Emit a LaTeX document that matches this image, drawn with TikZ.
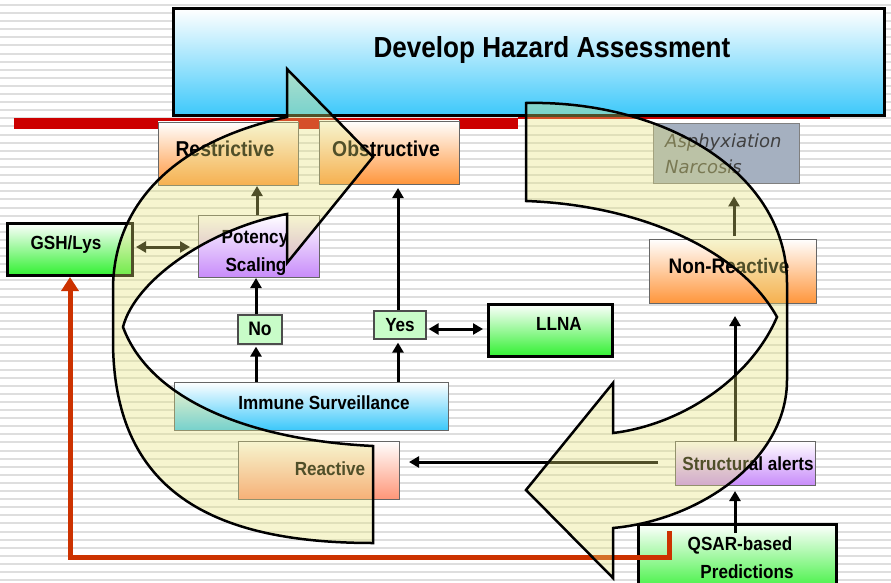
\documentclass[tikz,border=0pt]{standalone}
\usepackage{fontspec}
\setmainfont{Liberation Sans}[FakeStretch=0.9]
\newfontfamily\oblfont{DejaVu Sans}
\usetikzlibrary{arrows.meta}
\definecolor{skyb}{RGB}{60,200,250}
\definecolor{orng}{RGB}{255,150,60}
\definecolor{salm}{RGB}{255,150,120}
\definecolor{grn}{RGB}{50,240,50}
\definecolor{purp}{RGB}{200,140,250}
\definecolor{pale}{RGB}{200,252,200}
\definecolor{slate}{RGB}{165,176,192}
\definecolor{redbar}{RGB}{204,0,0}
\definecolor{rust}{RGB}{204,50,0}
\definecolor{band}{RGB}{230,228,120}
\definecolor{stripe}{RGB}{222,222,222}
\definecolor{darktxt}{RGB}{64,64,64}
\begin{document}
\begin{tikzpicture}[x=1pt,y=-1pt,
  box/.style={draw=black!60, line width=0.8pt, top color=white, inner sep=0pt, outer sep=0pt},
  boldbox/.style={draw=black, line width=3pt, top color=white, inner sep=0pt, outer sep=0pt},
  txt/.style={font=\bfseries\fontsize{19}{22}\selectfont, inner sep=0pt, anchor=base},
  bigtxt/.style={font=\bfseries\fontsize{21.5}{24}\selectfont, inner sep=0pt, anchor=base},
  conn/.style={line width=3pt, -{Triangle[width=11pt,length=10pt]}},
  twoway/.style={line width=3pt, {Triangle[width=11pt,length=10pt]}-{Triangle[width=11pt,length=10pt]}},
  redconn/.style={draw=rust, line width=5pt, -{Triangle[width=17pt,length=14pt]}},
  curved/.style={draw=black, line width=2.5pt, fill=band, fill opacity=0.35, line join=miter}]
\useasboundingbox (0,0) rectangle (891,583);
\clip (0,0) rectangle (891,583);
% background stripes
\fill[white] (0,0) rectangle (891,583);
\foreach \i in {0,...,72} \fill[stripe] (0,{4+8.1*\i}) rectangle (891,{6+8.1*\i});
% red bar
\fill[redbar] (14,118) rectangle (518,129.5);
\fill[redbar] (518,116) rectangle (830,119.5);
% boxes
\node[boldbox, bottom color=skyb, minimum width=711pt, minimum height=107pt] (title) at (528.5,62.5) {};
\node[box, bottom color=orng, minimum width=140pt, minimum height=63pt] (restr) at (228,153.5) {};
\node[box, bottom color=orng, minimum width=140pt, minimum height=63pt] (obstr) at (389,152.5) {};
\node[draw=black!50, line width=0.8pt, fill=slate, inner sep=0pt, minimum width=146pt, minimum height=60pt] (asph) at (726,153) {};
\node[boldbox, bottom color=grn, minimum width=125pt, minimum height=52pt] (gsh) at (69.5,249) {};
\node[box, bottom color=purp, minimum width=121pt, minimum height=62pt] (pot) at (258.5,246) {};
\node[box, bottom color=orng, minimum width=167pt, minimum height=64pt] (nonr) at (732.5,271) {};
\node[boldbox, bottom color=grn, minimum width=124pt, minimum height=52pt] (llna) at (550,330) {};
\node[draw=black!70, line width=1.2pt, fill=pale, inner sep=0pt, minimum width=52pt, minimum height=28pt] (yes) at (400,325) {};
\node[draw=black!70, line width=1.2pt, fill=pale, inner sep=0pt, minimum width=44pt, minimum height=29pt] (no) at (260,329.5) {};
\node[box, bottom color=skyb, minimum width=274pt, minimum height=48pt] (imm) at (311,406) {};
\node[box, bottom color=salm, minimum width=161pt, minimum height=58pt] (react) at (318.5,470) {};
\node[box, bottom color=purp, minimum width=140pt, minimum height=44pt] (struct) at (745,463) {};
\node[boldbox, bottom color=grn, minimum width=198pt, minimum height=71pt] (qsar) at (737,559.5) {};
% texts
\node[font=\bfseries\fontsize{29}{32}\selectfont, inner sep=0pt, anchor=base] (tTitle) at (552,58) {Develop Hazard Assessment};
\node[bigtxt] (tRestr) at (225,157) {Restrictive};
\node[bigtxt] (tObstr) at (386,156) {Obstructive};
\node[font=\oblfont\itshape\fontsize{18}{20}\selectfont, text=darktxt, inner sep=0pt, anchor=base west] (tAsph) at (665,147) {Asphyxiation};
\node[font=\oblfont\itshape\fontsize{18}{20}\selectfont, text=darktxt, inner sep=0pt, anchor=base west] (tNarc) at (665,173) {Narcosis};
\node[txt] (tGsh) at (66,249.5) {GSH/Lys};
\node[txt] (tPot) at (255,243) {Potency};
\node[txt] (tScal) at (256,271) {Scaling};
\node[bigtxt, font=\bfseries\fontsize{21}{24}\selectfont] (tNonr) at (729,273) {Non-Reactive};
\node[txt, font=\bfseries\fontsize{19.5}{22}\selectfont] (tNo) at (260,335) {No};
\node[txt] (tYes) at (400,331) {Yes};
\node[txt] (tLlna) at (559,330) {LLNA};
\node[txt] (tImm) at (324,409) {Immune Surveillance};
\node[txt] (tReact) at (330,475) {Reactive};
\node[txt] (tStruct) at (748,470) {Structural alerts};
\node[txt] (tQsar) at (740,550) {QSAR-based};
\node[txt] (tPred) at (747,578) {Predictions};
% connectors
\draw[conn, shorten >=1pt] (257,0 |- pot.north) -- (257,0 |- restr.south);
\draw[twoway, shorten <=4pt, shorten >=8pt] (gsh.east |- 0,247) -- (pot.west |- 0,247);
\draw[conn, shorten >=1pt] (256,0 |- no.north) -- (256,0 |- pot.south);
\draw[conn, shorten >=2pt] (256,0 |- imm.north) -- (256,0 |- no.south);
\draw[conn, shorten >=3pt] (398,0 |- imm.north) -- (398,0 |- yes.south);
\draw[conn, shorten >=4pt] (398,0 |- yes.north) -- (398,0 |- obstr.south);
\draw[twoway, shorten <=2pt, shorten >=5pt] (yes.east |- 0,329) -- (llna.west |- 0,329);
\draw[conn, shorten <=17pt, shorten >=10pt] (struct.west |- 0,462) -- (react.east |- 0,462);
\draw[conn, shorten <=3pt, shorten >=13pt] (734,0 |- nonr.north) -- (734,0 |- asph.south);
\draw[conn, shorten >=13pt] (735,0 |- struct.north) -- (735,0 |- nonr.south);
\draw[conn, shorten <=-9pt, shorten >=6pt] (735,0 |- qsar.north) -- (735,0 |- struct.south);
\coordinate (redstart) at (669,531);
\draw[redconn, shorten >=2pt] (redstart) -- (669,557) -- (70,557) -- (70,0 |- gsh.south);
% curved arrows
\path[curved] (287,117) .. controls (180,140) and (113,200) .. (113,290) -- (113,340)
  .. controls (113,490) and (210,543) .. (373,543) -- (373,446)
  .. controls (250,440) and (150,400) .. (123,327)
  .. controls (135,280) and (210,228) .. (287,214) -- (287,263) -- (373,157) -- (287,69) -- cycle;
\path[curved] (526,103) .. controls (660,100) and (787,170) .. (787,283) -- (787,380)
  .. controls (787,460) and (700,520) .. (613,528) -- (613,578) -- (526,490) -- (613,383) -- (613,433)
  .. controls (680,425) and (750,380) .. (777,317)
  .. controls (740,250) and (640,205) .. (526,201) -- cycle;
\end{tikzpicture}
\end{document}
